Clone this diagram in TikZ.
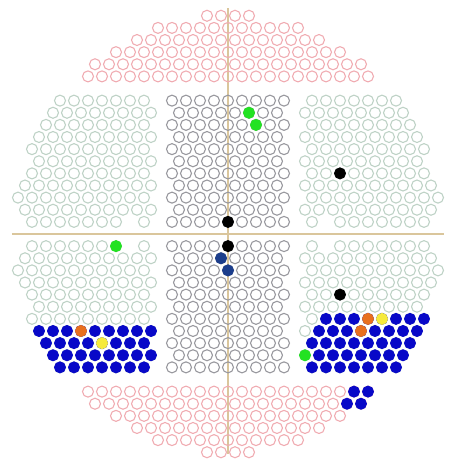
\documentclass[tikz,border=0pt]{standalone}
\usepackage{amsmath,amssymb}
\usepackage{tikz}
\usepackage{xcolor}

\definecolor{ringpink}{RGB}{240,172,178}
\definecolor{sidegreen}{RGB}{190,210,198}
\definecolor{midgray}{RGB}{152,152,158}
\definecolor{hitblue}{RGB}{8,8,200}
\definecolor{hitorange}{RGB}{232,112,30}
\definecolor{hityellow}{RGB}{246,234,60}
\definecolor{hitgreen}{RGB}{34,226,34}
\definecolor{hitnavy}{RGB}{28,62,140}
\definecolor{axistan}{RGB}{218,198,156}

\tikzset{
	ringpmt/.style={draw=ringpink,line width=1.1pt},
	sidepmt/.style={draw=sidegreen,line width=1.1pt},
	midpmt/.style={draw=midgray,line width=1.1pt},
	hit/.style={fill=#1,draw=#1,line width=0.9pt}
}

\newcommand{\pmtcell}[3]{\draw[#3] ({7*(#1)},{12.124*(#2)}) circle (5.5);}

\begin{document}
\begin{tikzpicture}[x=1pt,y=1pt]
		
		\useasboundingbox (-228,-225) rectangle (224,234);
		
		\draw[axistan,line width=1.1pt] (-216,0) -- (216,0);
		
		\draw[axistan,line width=1.1pt] (0,226) -- (0,-220);
		
		% outer rings, top and bottom
		\foreach \r/\a/\b in {13/-20/20,14/-19/19,15/-16/16,16/-13/13,17/-10/10,18/-3/3}{
			\pgfmathtruncatemacro\s{\a+2}
			\foreach \c in {\a,\s,...,\b}{
				\pmtcell{\c}{\r}{ringpmt}
				\pmtcell{\c}{-\r}{ringpmt}
			}
		}
		
		% middle columns
		\foreach \r/\a in {1/8,2/7,3/8,4/7,5/8,6/7,7/8,8/7,9/8,10/7,11/8}{
			\pgfmathtruncatemacro\s{-\a+2}
			\foreach \c in {-\a,\s,...,\a}{
				\pmtcell{\c}{\r}{midpmt}
				\pmtcell{\c}{-\r}{midpmt}
			}
		}
		
		% side blocks
		\foreach \r/\a/\b in {2/11/29,3/12/30,4/11/29,5/12/28,6/11/27,7/12/28,8/11/27,9/12/26,10/11/25,11/12/24}{
			\pgfmathtruncatemacro\s{\a+2}
			\foreach \c in {\a,\s,...,\b}{
				\pmtcell{\c}{\r}{sidepmt}
				\pmtcell{-\c}{\r}{sidepmt}
				\pmtcell{\c}{-\r}{sidepmt}
				\pmtcell{-\c}{-\r}{sidepmt}
			}
		}
		
		\foreach \c in {12,16,18,...,28}{
			\pmtcell{\c}{1}{sidepmt}
			\pmtcell{-\c}{1}{sidepmt}
			\pmtcell{\c}{-1}{sidepmt}
			\pmtcell{-\c}{-1}{sidepmt}
		}
		
		% blue blocks
		\foreach \r/\a/\b in {-8/-27/-11,-9/-26/-12,-10/-25/-11,-11/-24/-12,
			-7/14/28,-8/13/27,-9/12/26,-10/13/25,-11/12/24,-13/18/20,-14/17/19}{
			\pgfmathtruncatemacro\s{\a+2}
			\foreach \c in {\a,\s,...,\b}{
				\pmtcell{\c}{\r}{hit=hitblue}
			}
		}
		
		% single hits
		\foreach \c/\r/\col in {-21/-8/hitorange,-18/-9/hityellow,20/-7/hitorange,
			22/-7/hityellow,19/-8/hitorange,11/-10/hitgreen,-16/-1/hitgreen,
			3/10/hitgreen,4/9/hitgreen,0/1/black,0/-1/black,16/5/black,
			16/-5/black,-1/-2/hitnavy,0/-3/hitnavy}{
			\pmtcell{\c}{\r}{hit=\col}
		}
		
	\end{tikzpicture}
\end{document}
